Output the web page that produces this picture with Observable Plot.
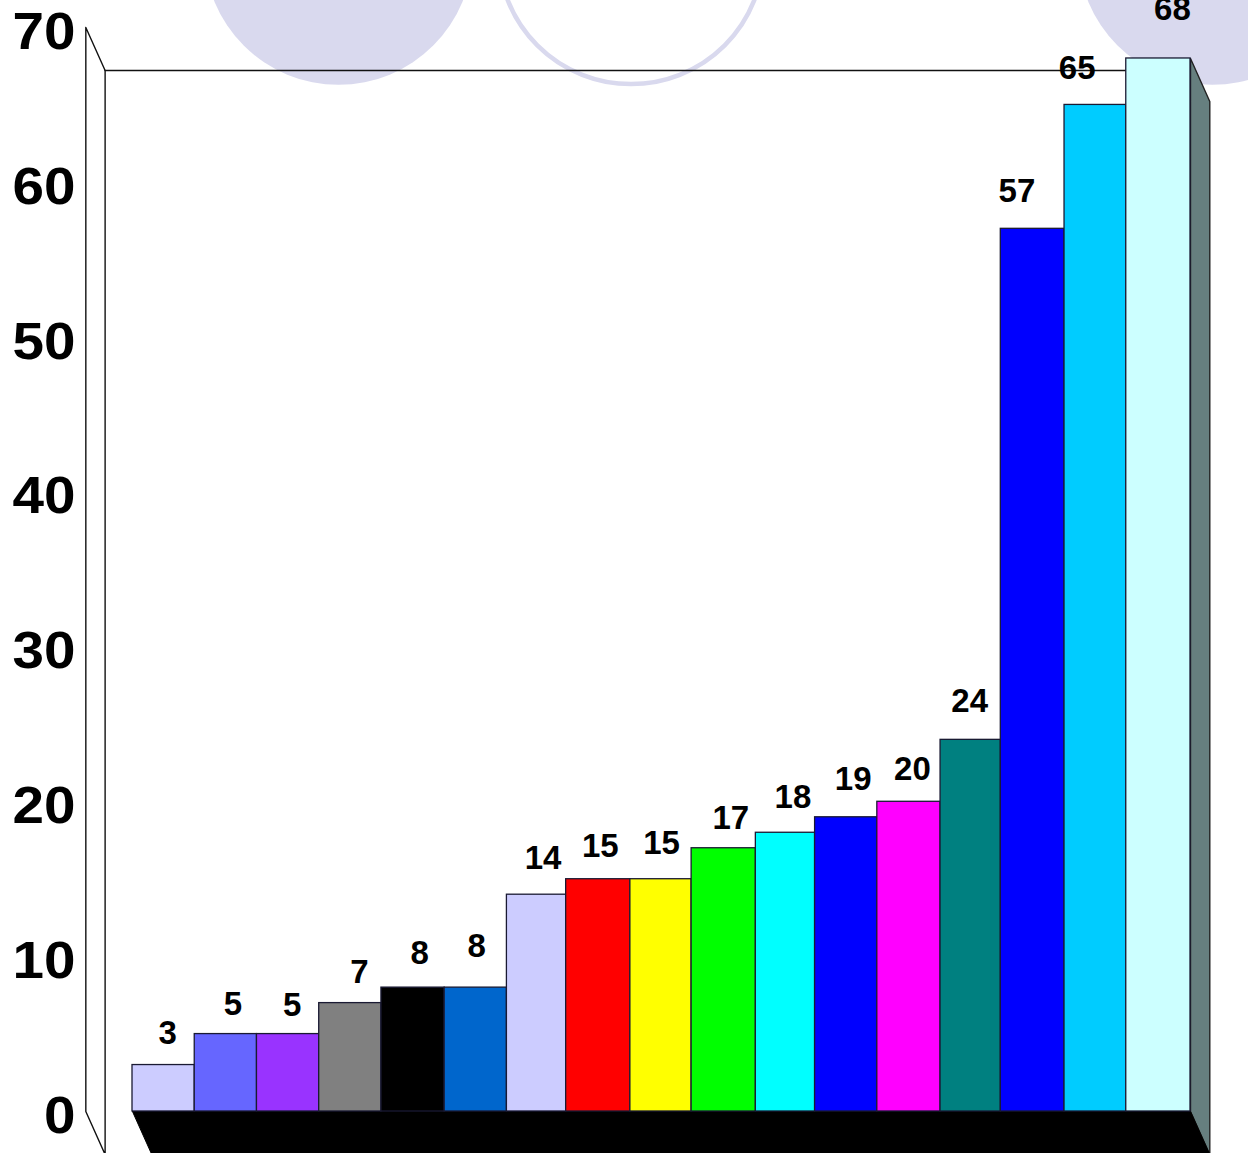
<!DOCTYPE html>
<html>
<head>
<meta charset="utf-8">
<style>html,body{margin:0;padding:0;background:#fff}svg{display:block}</style>
<script src="https://cdn.jsdelivr.net/npm/d3@7"></script>
<script src="https://cdn.jsdelivr.net/npm/@observablehq/plot@0.6"></script>
</head>
<body>
<script>
// Data
const values = [3,5,5,7,8,8,14,15,15,17,18,19,20,24,57,65,68];
const barColors = ["#ccccff","#6666ff","#9933ff","#808080","#000000","#0066cc","#ccccff","#ff0000","#ffff00","#00ff00","#00ffff","#0000ff","#ff00ff","#008080","#0000ff","#00ccff","#ccffff"];
const yTicks = [0,10,20,30,40,50,60,70];

// Label nudges from the bar's top centre (style, in px)
const labelDx = [4,7,4,9,7,2,6,1,0,7,7,5,2,-3,-18,-20,13];
const labelDy = [-32,-30,-29,-31,-34,-41,-36,-33,-36,-30,-35,-38,-32,-38,-37,-36,-49];
// Small nudges of the bar edges (style, in px)
const edgeNudge = [0,0,0,0,0,1,1,-2,0,-1,1,-2,-2,-1,-3,-1.5,-2,0];

// 3D frame, in data units
const n = values.length;
const yMax = 70;
const depthX = 0.31, depthY = 2.78;
const wallX = -0.75;
const topValue = values[n - 1];
const bars = values.map((v, i) => ({i, v, color: barColors[i]}));

const leftWall = [[wallX,yMax],[wallX+depthX,yMax-depthY],[wallX+depthX,-depthY],[wallX,0],[wallX,yMax]];
const backTop = [[wallX+depthX,yMax-depthY],[n,yMax-depthY]];
const floor = [[0,0],[n,0],[n+depthX,-depthY],[depthX,-depthY],[0,0]];
const sideWall = [[n,topValue],[n+depthX,topValue-depthY],[n+depthX,-depthY],[n,0],[n,topValue]];

// Decorative slide circles behind the chart
const discs = [[3.31,74.95],[17.35,74.95]];
const rings = [[8.01,74.9]];

const polyOpts = {x:d=>d[0], y:d=>d[1], strokeLinejoin:"miter"};

const chart = Plot.plot({
  width: 1248, height: 1153,
  marginLeft: 75, marginRight: 0, marginTop: 0, marginBottom: 0,
  style: {background:"#fff", overflow:"hidden"},
  x: {type:"linear", domain:[0,n], range:[132,1190], axis:null},
  y: {domain:[0,yMax], range:[1111,27]},
  marks: [
    Plot.dot(discs, {x:d=>d[0], y:d=>d[1], r:134, fill:"#d9d9ee", stroke:"none"}),
    Plot.dot(rings, {x:d=>d[0], y:d=>d[1], r:132.5, fill:"none", stroke:"#d9d9ee", strokeWidth:4.5}),
    Plot.line(leftWall, {...polyOpts, fill:"none", stroke:"#111", strokeWidth:1.4}),
    Plot.line(backTop, {...polyOpts, stroke:"#111", strokeWidth:1.6}),
    Plot.line(sideWall, {...polyOpts, fill:"#667f7f", stroke:"#222", strokeWidth:1.4}),
    Plot.line(floor, {...polyOpts, fill:"#000", stroke:"#000", strokeWidth:1}),
    ...bars.map((d, k) => Plot.rectY([d], {
      x1:"i", x2:e=>e.i+1, y1:0, y2:"v", fill:"color", stroke:"#1a1a33", strokeWidth:1.3,
      insetLeft:edgeNudge[k], insetRight:-edgeNudge[k+1]
    })),
    ...bars.map((d, k) => Plot.text([d], {
      x:e=>e.i+0.5, y:"v", text:e=>String(e.v),
      dx:labelDx[k], dy:labelDy[k],
      fontFamily:"Liberation Sans", fontWeight:"bold", fontSize:33, fill:"#000"
    })),
    Plot.axisY(yTicks, {
      anchor:"left", tickSize:0, tickPadding:0, label:null, dy:5,
      fontFamily:"Liberation Sans", fontWeight:"bold", fontSize:51, fill:"#000", ariaLabel:"y-axis"
    })
  ]
});
chart.querySelectorAll('[aria-label="y-axis tick label"] text, [aria-label="y-axis"] text').forEach(t => {
  const len = t.textContent.trim().length;
  t.setAttribute("textLength", len * 31.5);
  t.setAttribute("lengthAdjust", "spacingAndGlyphs");
});
document.body.appendChild(chart);
</script>
</body>
</html>
